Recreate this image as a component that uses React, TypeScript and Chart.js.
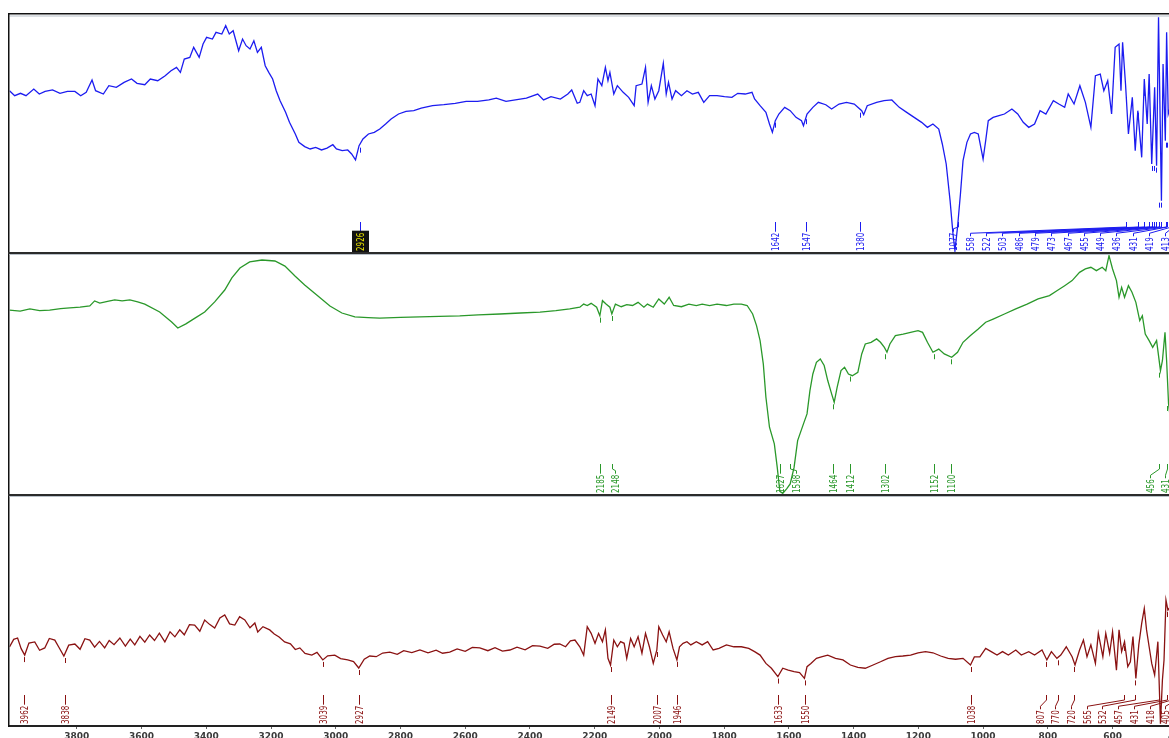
import { useEffect, useRef } from "react";
import { Chart, registerables } from "chart.js";

Chart.register(...registerables);

// x axis tick labels (cm-1)
const axisTicks = [3800, 3600, 3400, 3200, 3000, 2800, 2600, 2400, 2200, 2000, 1800, 1600, 1400, 1200, 1000, 800, 600, 400];

// ---------- top spectrum (blue) ----------
const blueWavenumbers = [
  4008, 3992, 3974, 3957, 3933, 3916, 3898, 3875, 3852, 3829, 3806, 3788, 3771, 3753, 3742, 3718, 3701, 3678, 3654, 3631,
  3614, 3590, 3573, 3550, 3527, 3509, 3492, 3480, 3468, 3451, 3439, 3422, 3410, 3399, 3381, 3370, 3352, 3340, 3329, 3317,
  3300, 3288, 3277, 3265, 3253, 3242, 3230, 3218, 3207, 3195, 3184, 3172, 3155, 3143, 3125, 3114, 3096, 3079, 3062, 3044,
  3027, 3009, 2998, 2980, 2963, 2951, 2939, 2928, 2916, 2899, 2881, 2864, 2846, 2829, 2806, 2783, 2759, 2736, 2701, 2666,
  2631, 2597, 2562, 2527, 2504, 2474, 2445, 2411, 2376, 2358, 2335, 2306, 2283, 2271, 2254, 2246, 2234, 2223, 2211, 2199,
  2190, 2178, 2167, 2159, 2153, 2141, 2130, 2112, 2095, 2078, 2072, 2054, 2043, 2035, 2025, 2014, 2002, 1988, 1979, 1972,
  1961, 1950, 1932, 1915, 1898, 1880, 1863, 1845, 1822, 1799, 1776, 1758, 1735, 1714, 1706, 1689, 1671, 1660, 1651, 1642,
  1631, 1613, 1596, 1578, 1561, 1555, 1544, 1526, 1509, 1486, 1468, 1445, 1422, 1398, 1375, 1369, 1358, 1329, 1306, 1282,
  1259, 1236, 1213, 1190, 1172, 1155, 1137, 1126, 1114, 1102, 1093, 1087, 1079, 1070, 1062, 1050, 1039, 1027, 1015, 1007,
  1000, 992, 984, 969, 951, 934, 911, 893, 876, 859, 841, 824, 806, 783, 766, 748, 737, 719, 701, 684,
  667, 653, 638, 627, 615, 603, 592, 580, 574, 569, 560, 551, 539, 530, 522, 510, 502, 493, 487, 479,
  470, 464, 458, 449, 444, 437, 433, 428, 420,
];
const blueTransmittance = [
  68.2, 66.1, 67.1, 66.1, 68.9, 66.8, 67.9, 68.5, 67.1, 67.9, 67.9, 66.1, 67.5, 72.7, 68.2, 66.8, 70.3, 69.6, 71.7, 73.1,
  71.3, 70.7, 73.1, 72.4, 74.5, 76.6, 78.0, 75.9, 81.5, 82.2, 86.4, 82.2, 87.8, 90.6, 89.9, 92.7, 92.0, 95.5, 92.0, 93.4,
  85.0, 89.9, 87.1, 85.7, 89.2, 84.3, 86.4, 78.7, 75.9, 73.1, 68.2, 64.0, 59.1, 54.9, 50.0, 46.5, 44.7, 43.7, 44.4, 43.3,
  44.1, 45.5, 43.7, 43.0, 43.3, 41.6, 39.1, 45.1, 47.9, 50.0, 50.7, 52.1, 54.2, 56.3, 58.4, 59.5, 59.8, 60.9, 61.9, 62.3,
  62.9, 63.7, 63.7, 64.3, 65.1, 63.7, 64.3, 65.1, 66.8, 64.3, 65.7, 64.7, 66.8, 68.5, 62.9, 63.3, 68.2, 66.1, 66.8, 61.9,
  73.1, 70.3, 78.0, 72.4, 75.9, 66.8, 70.3, 67.5, 65.4, 61.9, 70.3, 71.0, 78.0, 63.3, 70.3, 64.7, 68.2, 79.7, 66.8, 71.7,
  64.7, 68.2, 66.1, 68.2, 66.8, 67.5, 63.3, 66.1, 66.1, 65.7, 65.4, 67.1, 66.8, 67.5, 64.7, 61.9, 59.1, 54.2, 50.7, 55.6,
  58.4, 61.2, 59.8, 57.0, 55.6, 53.5, 58.4, 61.2, 63.3, 62.3, 60.5, 62.6, 63.3, 62.6, 59.8, 58.1, 61.9, 63.3, 64.0, 64.3,
  61.2, 59.1, 57.0, 54.9, 52.8, 54.2, 52.1, 45.8, 37.4, 22.0, 8.0, 1.0, 10.8, 24.8, 38.8, 46.5, 50.0, 50.7, 50.0, 44.4,
  39.5, 47.2, 55.6, 57.0, 57.7, 58.4, 60.5, 58.4, 54.9, 52.8, 54.2, 59.8, 58.4, 64.0, 62.6, 61.2, 66.8, 62.6, 70.3, 63.3,
  52.8, 74.5, 75.2, 68.2, 72.4, 58.4, 86.4, 87.8, 68.2, 88.5, 71.0, 50.0, 65.4, 43.0, 59.8, 40.2, 73.1, 54.2, 75.2, 37.4,
  69.6, 36.7, 99.0, 22.0, 79.4, 47.2, 92.7, 58.4, 62.0,
];
const bluePeaks = [2926, 1642, 1547, 1380, 1077, 558, 522, 503, 486, 479, 473, 467, 455, 449, 436, 431, 419, 413];

// ---------- middle spectrum (green) ----------
const greenWavenumbers = [
  4008, 3975, 3945, 3915, 3884, 3850, 3822, 3790, 3760, 3745, 3729, 3705, 3683, 3660, 3636, 3612, 3590, 3544, 3507, 3488,
  3463, 3435, 3405, 3374, 3343, 3321, 3296, 3266, 3228, 3188, 3157, 3126, 3096, 3055, 3018, 2981, 2941, 2900, 2864, 2800,
  2740, 2680, 2617, 2560, 2493, 2430, 2369, 2320, 2277, 2246, 2234, 2223, 2211, 2194,
  2184, 2176, 2165, 2153, 2147, 2136, 2118, 2101, 2083, 2066, 2048, 2037, 2019, 2002, 1985, 1970, 1956, 1932, 1909, 1886,
  1868, 1845, 1822, 1793, 1770, 1747, 1729, 1712, 1700, 1689, 1679, 1671, 1660, 1645, 1636, 1628, 1619, 1607, 1596, 1584,
  1573, 1555, 1544, 1535, 1526, 1515, 1503, 1491, 1480, 1468, 1460, 1451, 1439, 1428, 1416, 1404, 1387, 1375, 1364, 1346,
  1329, 1317, 1305, 1297, 1288, 1271, 1247, 1224, 1201, 1187, 1172, 1155, 1137, 1120, 1097, 1079, 1062, 1039, 1015, 992,
  969, 934, 899, 864, 830, 795, 772, 748, 725, 702, 684, 667, 650, 632, 621, 611, 600, 588, 580, 572,
  563, 551, 540, 528, 516, 508, 499, 487, 476, 464, 452, 446, 438, 433, 427, 420,
];
const greenTransmittance = [
  76.4, 76.0, 76.9, 76.2, 76.4, 77.0, 77.3, 77.6, 78.1, 80.2, 79.3, 80.0, 80.6, 80.2, 80.6, 79.8, 78.9, 75.6, 71.5, 69.0,
  70.7, 73.1, 75.6, 79.8, 84.7, 89.7, 93.8, 96.3, 97.1, 96.7, 94.6, 90.5, 86.8, 82.2, 78.1, 75.2, 73.6, 73.3, 73.1, 73.4,
  73.6, 73.8, 74.0, 74.4, 74.8, 75.2, 75.6, 76.2, 76.9, 77.6, 78.9, 78.3, 79.2, 77.6,
  74.1, 80.3, 78.9, 77.6, 74.8, 78.9, 77.8, 78.7, 78.3, 79.6, 77.6, 78.9, 77.6, 81.0, 78.9, 81.7, 78.3, 77.8, 78.9, 78.3,
  78.9, 78.3, 78.9, 78.3, 78.9, 78.9, 78.3, 74.8, 70.0, 63.8, 54.1, 40.4, 28.0, 21.1, 11.4, 1.5, 0.7, 2.5, 4.6, 11.4,
  22.5, 29.4, 33.5, 43.1, 50.0, 54.8, 56.2, 53.5, 47.3, 41.8, 38.3, 44.5, 51.4, 52.8, 50.0, 49.3, 50.7, 58.3, 62.4, 63.1,
  64.5, 63.1, 61.0, 59.0, 62.4, 65.9, 66.5, 67.2, 67.9, 67.2, 63.1, 59.0, 60.3, 58.3, 56.9, 59.0, 63.1, 65.9, 68.6, 71.4,
  72.7, 74.8, 76.9, 78.9, 81.0, 82.4, 84.4, 86.5, 88.6, 92.0, 93.4, 94.1, 92.7, 94.1, 92.7, 98.9, 93.4, 88.6, 81.7, 85.8,
  81.7, 86.5, 83.8, 79.6, 72.1, 74.1, 66.5, 63.8, 61.0, 63.8, 51.4, 55.5, 67.2, 55.5, 37.6, 30.0,
];
const greenPeaks = [2185, 2148, 1627, 1598, 1464, 1412, 1302, 1152, 1100, 456, 431];

// ---------- bottom spectrum (dark red) ----------
const redWavenumbers = [
  4008, 3995, 3983, 3972, 3961, 3948, 3930, 3915, 3899, 3885, 3868, 3855, 3840, 3825, 3806, 3790, 3775, 3760, 3745, 3730,
  3714, 3700, 3685, 3667, 3650, 3635, 3621, 3605, 3590, 3575, 3560, 3545, 3528, 3512, 3497, 3482, 3468, 3452, 3436, 3420,
  3405, 3390, 3374, 3358, 3343, 3328, 3312, 3297, 3281, 3265, 3250, 3241, 3225, 3204, 3190, 3175, 3158, 3140, 3125, 3111,
  3095, 3074, 3058, 3040, 3025, 3003, 2985, 2963, 2945, 2929, 2912, 2895, 2875, 2855, 2833, 2810, 2790, 2765, 2740, 2715,
  2690, 2670, 2648, 2625, 2600, 2578, 2555, 2530, 2508, 2485, 2462, 2440, 2415, 2392, 2369, 2345, 2325, 2308, 2290, 2275,
  2261, 2246,
  2234, 2223, 2211, 2199, 2188, 2176, 2167, 2159, 2151, 2141, 2130, 2120, 2109, 2101, 2089, 2078, 2066, 2054, 2043, 2031,
  2019, 2008, 2002, 1990, 1979, 1970, 1958, 1946, 1938, 1927, 1915, 1903, 1886, 1868, 1851, 1834, 1816, 1793, 1770, 1747,
  1724, 1706, 1689, 1671, 1654, 1634, 1619, 1602, 1584, 1567, 1552, 1544, 1532, 1515, 1497, 1480, 1456, 1433, 1410, 1387,
  1364, 1340, 1317, 1294, 1271, 1248, 1224, 1201, 1178, 1155, 1131, 1108, 1085, 1062, 1039, 1027, 1010, 992, 975, 957,
  940, 922, 899, 882, 859, 841, 818, 803, 789, 772, 760, 743, 725, 716, 702, 690, 679, 667, 653, 644,
  630, 621, 609, 600, 588, 580, 572, 563, 553, 545, 537, 528, 519, 510, 502, 495, 487, 479, 470, 460,
  452, 446, 441, 435, 429, 420,
];
const redTransmittance = [
  34.2, 37.5, 38.1, 33.5, 30.7, 35.9, 36.4, 32.8, 33.8, 37.9, 37.2, 34.0, 30.3, 35.0, 35.5, 33.2, 37.8, 37.2, 34.1, 36.6,
  33.8, 37.0, 35.2, 38.1, 34.6, 37.6, 35.1, 38.8, 36.3, 39.4, 37.0, 40.2, 36.4, 40.8, 38.6, 41.6, 39.5, 43.9, 43.7, 41.0,
  45.9, 44.0, 42.4, 46.8, 48.1, 44.2, 43.7, 47.3, 45.9, 42.5, 44.6, 40.7, 43.0, 41.6, 39.8, 38.5, 36.4, 35.6, 33.1, 33.8,
  31.4, 30.7, 31.9, 28.6, 30.4, 30.7, 29.2, 28.6, 27.9, 25.1, 28.9, 30.3, 30.0, 31.6, 32.0, 31.0, 32.6, 31.8, 32.9, 31.7,
  32.8, 31.5, 32.0, 33.4, 32.3, 34.0, 33.8, 32.6, 33.9, 32.4, 32.9, 34.1, 33.0, 34.8, 34.6, 33.6, 35.4, 35.5, 34.3, 36.9,
  37.2, 34.3,
  30.7, 43.0, 40.1, 35.8, 40.1, 36.5, 41.6, 29.3, 26.4, 37.2, 34.3, 36.5, 35.8, 29.3, 37.9, 34.3, 38.7, 31.5, 40.1, 34.3,
  27.1, 32.9, 43.0, 39.4, 36.5, 40.8, 33.6, 28.6, 34.3, 35.8, 36.5, 35.1, 36.5, 35.1, 36.5, 32.9, 33.6, 35.1, 34.3, 34.3,
  33.6, 32.2, 30.7, 27.1, 25.0, 21.4, 25.0, 24.2, 23.5, 23.1, 20.6, 25.7, 27.1, 29.3, 30.0, 30.7, 29.3, 28.6, 26.4, 25.4,
  25.0, 26.4, 27.8, 29.3, 30.0, 30.3, 30.7, 31.7, 32.2, 31.7, 30.3, 29.3, 28.9, 29.3, 26.4, 29.9, 29.9, 33.6, 32.2, 30.7,
  32.2, 30.7, 32.9, 30.7, 32.2, 30.7, 32.9, 28.6, 32.2, 29.3, 30.7, 34.3, 30.0, 26.4, 32.9, 37.2, 30.0, 35.1, 27.1, 40.1,
  30.0, 40.1, 31.5, 40.8, 24.2, 41.6, 32.2, 36.5, 25.7, 27.8, 38.7, 20.6, 35.1, 44.4, 50.9, 41.6, 34.3, 27.1, 22.1, 36.5,
  1.0, 19.9, 28.6, 54.5, 50.2, 52.0,
];
const redPeaks = [3962, 3838, 3039, 2927, 2149, 2007, 1946, 1633, 1550, 1038, 807, 770, 720, 565, 532, 457, 431, 418, 405];

const BLUE = "#1c1cf0";
const GREEN = "#2a982a";
const RED = "#8a1212";
const LABEL_FONT = '10px "DejaVu Sans Condensed", "DejaVu Sans", sans-serif';
const LABEL_SQUEEZE = 0.8;

const panels = [
  { axis: "yBlue", color: BLUE, ws: blueWavenumbers, vs: blueTransmittance, peaks: bluePeaks, spacing: 16.3, highlight: 2926 },
  { axis: "yGreen", color: GREEN, ws: greenWavenumbers, vs: greenTransmittance, peaks: greenPeaks, spacing: 15.5, highlight: -1 },
  { axis: "yRed", color: RED, ws: redWavenumbers, vs: redTransmittance, peaks: redPeaks, spacing: 15.7, highlight: -1 },
];

function toPoints(ws: number[], vs: number[]) {
  return ws.map((w, i) => ({ x: w, y: vs[i] }));
}

function curveAt(ws: number[], vs: number[], w: number) {
  for (let i = 0; i < ws.length - 1; i++) {
    const a = ws[i];
    const b = ws[i + 1];
    if ((a - w) * (b - w) <= 0) {
      const t = a === b ? 0 : (w - a) / (b - a);
      return vs[i] + t * (vs[i + 1] - vs[i]);
    }
  }
  return vs[vs.length - 1];
}

function localMin(ws: number[], vs: number[], w: number) {
  let m = curveAt(ws, vs, w);
  for (let i = 0; i < ws.length; i++) {
    if (Math.abs(ws[i] - w) <= 6) m = Math.min(m, vs[i]);
  }
  return m;
}

function line(ctx: CanvasRenderingContext2D, x1: number, y1: number, x2: number, y2: number) {
  ctx.beginPath();
  ctx.moveTo(x1, y1);
  ctx.lineTo(x2, y2);
  ctx.stroke();
}

const overlayPlugin = {
  id: "overlay",
  afterDraw(chart: any) {
    const { ctx, chartArea } = chart;
    const xs = chart.scales.x;
    ctx.save();

    panels.forEach((p) => {
      const ys = chart.scales[p.axis];
      ctx.font = LABEL_FONT;
      const items = p.peaks
        .map((w) => ({ w, text: String(w), px: xs.getPixelForValue(w), lx: 0 }))
        .sort((a, b) => a.px - b.px);
      let prev = -Infinity;
      items.forEach((it) => {
        it.lx = Math.max(it.px, prev + p.spacing);
        prev = it.lx;
      });
      let next = xs.right - 12 + p.spacing;
      for (let i = items.length - 1; i >= 0; i--) {
        items[i].lx = Math.min(items[i].lx, next - p.spacing);
        next = items[i].lx;
      }
      const textBottom = ys.bottom - 2;
      const tickTop = ys.bottom - 31;
      ctx.strokeStyle = p.color;
      ctx.lineWidth = 1;
      items.forEach((it) => {
        const tw = ctx.measureText(it.text).width * LABEL_SQUEEZE;
        const textTop = textBottom - tw;
        const px = Math.round(it.px) + 0.5;
        const lx = Math.round(it.lx) + 0.5;
        if (Math.abs(lx - px) < 1) {
          line(ctx, px, textTop - 1, px, tickTop);
        } else {
          line(ctx, lx, textTop - 1, lx, textTop - 4);
          line(ctx, lx, textTop - 4, px, tickTop + 5);
          line(ctx, px, tickTop + 5, px, tickTop);
        }
        const v = localMin(p.ws, p.vs, it.w);
        const py = ys.getPixelForValue(v);
        if (py + 8 < tickTop) line(ctx, px, py + 2, px, py + 7);
        if (it.w === p.highlight) {
          ctx.fillStyle = "#111";
          ctx.fillRect(lx - 8.5, textTop - 2, 17, tw + 3);
          ctx.fillStyle = "#e6e000";
        } else {
          ctx.fillStyle = p.color;
        }
        ctx.save();
        ctx.translate(lx, textBottom);
        ctx.rotate(-Math.PI / 2);
        ctx.scale(LABEL_SQUEEZE, 1);
        ctx.textAlign = "left";
        ctx.textBaseline = "middle";
        ctx.fillText(it.text, 0, 0.5);
        ctx.restore();
      });
    });

    const left = chartArea.left;
    const width = chartArea.right - chartArea.left + 30;
    ctx.fillStyle = "#111";
    ctx.fillRect(left - 1.5, chartArea.top - 2, width, 1.5);
    ctx.fillStyle = "#b9c1c9";
    ctx.fillRect(left, chartArea.top + 0.5, width, 1);
    ctx.fillStyle = "#111";
    ctx.fillRect(left - 1.5, chartArea.top - 2, 1.5, chartArea.bottom - chartArea.top + 3);
    [chart.scales.yBlue.bottom, chart.scales.yGreen.bottom].forEach((b: number) => {
      ctx.fillStyle = "#2b2b2b";
      ctx.fillRect(left - 1.5, b - 1, width, 2);
      ctx.fillStyle = "#b9c1c9";
      ctx.fillRect(left, b + 1, width, 1);
    });
    ctx.restore();
  },
};

const hiddenY = {
  type: "linear" as const,
  position: "left" as const,
  stack: "panels",
  min: 0,
  max: 100,
  display: true,
  grid: { display: false, drawTicks: false },
  border: { display: false },
  ticks: { display: false },
  afterFit: (s: any) => {
    s.width = 0;
  },
};

export default function App() {
  const ref = useRef<HTMLCanvasElement>(null);
  useEffect(() => {
    if (!ref.current) return;
    const chart = new Chart(ref.current, {
      type: "line",
      data: {
        datasets: [
          { data: toPoints(blueWavenumbers, blueTransmittance), yAxisID: "yBlue", borderColor: BLUE, borderWidth: 1.3, pointRadius: 0, tension: 0, fill: false },
          { data: toPoints(greenWavenumbers, greenTransmittance), yAxisID: "yGreen", borderColor: GREEN, borderWidth: 1.3, pointRadius: 0, tension: 0, fill: false },
          { data: toPoints(redWavenumbers, redTransmittance), yAxisID: "yRed", borderColor: RED, borderWidth: 1.3, pointRadius: 0, tension: 0, fill: false },
        ],
      },
      options: {
        animation: false,
        responsive: false,
        devicePixelRatio: 1,
        events: [],
        layout: { padding: { left: 9.5, right: 22.7, top: 15, bottom: 14 } },
        plugins: { legend: { display: false }, tooltip: { enabled: false }, title: { display: false } },
        scales: {
          x: {
            type: "linear",
            reverse: true,
            min: 400,
            max: 4008,
            position: "bottom",
            afterBuildTicks: (s: any) => {
              s.ticks = axisTicks.map((v) => ({ value: v }));
            },
            afterFit: (s: any) => {
              s.height = 20;
            },
            grid: { display: true, drawOnChartArea: false, drawTicks: true, tickLength: 3, color: "#666" },
            border: { display: true, color: "#222", width: 2 },
            ticks: {
              color: "#3a3a3a",
              font: { family: "DejaVu Sans", size: 9, weight: "bold" },
              padding: 2,
              maxRotation: 0,
              autoSkip: false,
              callback: (v: any) => String(v),
            },
          },
          yRed: { ...hiddenY, stackWeight: 231 },
          yGreen: { ...hiddenY, stackWeight: 242 },
          yBlue: { ...hiddenY, stackWeight: 238 },
        } as any,
      },
      plugins: [overlayPlugin],
    });
    return () => chart.destroy();
  }, []);

  return (
    <div style={{ position: "fixed", left: 0, top: 0, width: 1169, height: 738, overflow: "hidden", background: "#fff" }}>
      <canvas ref={ref} width={1200} height={760} style={{ display: "block", width: 1200, height: 760 }} />
    </div>
  );
}
